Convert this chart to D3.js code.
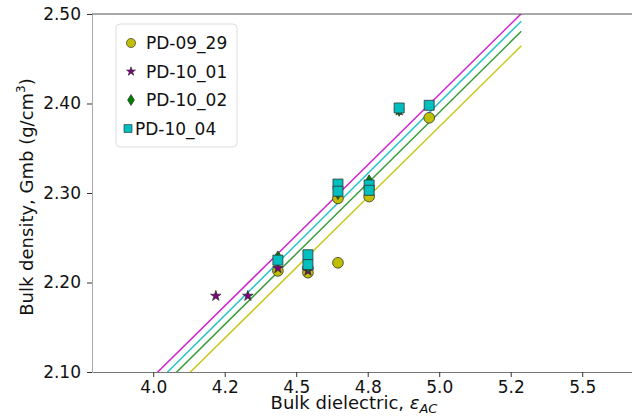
<!DOCTYPE html>
<html>
<head>
<meta charset="utf-8">
<script src="https://cdnjs.cloudflare.com/ajax/libs/d3/7.8.5/d3.min.js"></script>
<style>
  body { margin: 0; background: #fff; }
  svg { font-family: 'DejaVu Sans', sans-serif; display: block; overflow: hidden; }
</style>
</head>
<body>
<svg id="svg1" width="632" height="420"></svg>
<script>
// Series names (legend order)
const seriesNames = ['PD-09_29', 'PD-10_01', 'PD-10_02', 'PD-10_04'];

// PD-09_29 (circles)
const x0929 = [4.436, 4.541, 4.541, 4.646, 4.646, 4.755, 4.965];
const y0929 = [2.213, 2.216, 2.211, 2.222, 2.294, 2.296, 2.384];
// PD-10_01 (stars)
const x1001 = [4.219, 4.331, 4.436, 4.541, 4.860];
const y1001 = [2.185, 2.185, 2.216, 2.213, 2.392];
// PD-10_02 (thin diamonds)
const x1002 = [4.436, 4.541, 4.646, 4.755, 4.860];
const y1002 = [2.228, 2.218, 2.300, 2.313, 2.393];
// PD-10_04 (squares)
const x1004 = [4.436, 4.541, 4.541, 4.646, 4.646, 4.755, 4.755, 4.860, 4.965];
const y1004 = [2.225, 2.231, 2.220, 2.310, 2.302, 2.309, 2.303, 2.395, 2.398];

// Fit lines, y = a + b*x, same order as seriesNames
const fitIntercept = [0.799, 0.835, 0.810, 0.816];
const fitSlope = [0.315, 0.315, 0.316, 0.317];
const fitRange = [3.9, 5.287];

// Ticks
const xTicks = [4.0, 4.25, 4.5, 4.75, 5.0, 5.25, 5.5];
const xTickLabels = ['4.0', '4.2', '4.5', '4.8', '5.0', '5.2', '5.5'];
const yTicks = [2.1, 2.2, 2.3, 2.4, 2.5];
const yTickLabels = ['2.10', '2.20', '2.30', '2.40', '2.50'];

const svg = d3.select('#svg1');
const width = +svg.attr('width');
const height = +svg.attr('height');

const margin = { top: 14, left: 92, bottom: 48 };
const innerWidth = 548; // runs past right edge, right spine is off-canvas
const innerHeight = height - margin.top - margin.bottom;

//Colours per series
const fillCol = ['#bfbf00', '#800080', '#008000', '#00bfbf'];
const lineCol = ['#c8c81e', '#d024d0', '#3c9c3c', '#2cc4c8'];

const xScale = d3.scaleLinear()
  .domain([3.786, 3.786 + innerWidth / 286])
  .range([0, innerWidth]);
const yScale = d3.scaleLinear()
  .domain([2.1, 2.5])
  .range([innerHeight, 0]);

const g = svg.append('g')
  .attr('transform', `translate(${margin.left},${margin.top})`);

g.append('clipPath').attr('id', 'plotClip')
  .append('rect')
  .attr('width', innerWidth).attr('height', innerHeight);

//Shapes
const thinDiamond = (w, h) => `M0,${-h/2}L${w/2},0L0,${h/2}L${-w/2},0Z`;
const shapes = [
  d3.symbol(d3.symbolCircle, 90)(),
  d3.symbol(d3.symbolStar, 34)(),
  thinDiamond(8, 13),
  d3.symbol(d3.symbolSquare, 100)()
];

// Fit lines under markers
const plot = g.append('g').attr('clip-path', 'url(#plotClip)');
const line = d3.line().x(d => xScale(d[0])).y(d => yScale(d[1]));
// draw in z-order: yellow, green, cyan, magenta
[0, 2, 3, 1].forEach(i => {
  plot.append('path')
    .attr('d', line(fitRange.map(x => [x, fitIntercept[i] + fitSlope[i] * x])))
    .attr('fill', 'none')
    .attr('stroke', lineCol[i])
    .attr('stroke-width', 1.5);
});

const seriesX = [x0929, x1001, x1002, x1004];
const seriesY = [y0929, y1001, y1002, y1004];

seriesNames.forEach((name, i) => {
  const pts = seriesX[i].map((x, j) => [x, seriesY[i][j]]);
  plot.selectAll(`.pt${i}`).data(pts)
    .enter().append('path')
      .attr('class', `pt${i}`)
      .attr('d', shapes[i])
      .attr('transform', d => `translate(${xScale(d[0])},${yScale(d[1])})`)
      .attr('fill', fillCol[i])
      .attr('stroke', '#333')
      .attr('stroke-width', 0.8);
});

// Axes
const xAxisG = g.append('g')
  .attr('transform', `translate(0,${innerHeight})`)
  .call(d3.axisBottom(xScale).tickValues(xTicks)
    .tickFormat((d, i) => xTickLabels[i]).tickSize(5).tickSizeOuter(0).tickPadding(4));
const yAxisG = g.append('g')
  .call(d3.axisLeft(yScale).tickValues(yTicks)
    .tickFormat((d, i) => yTickLabels[i]).tickSize(5).tickSizeOuter(0).tickPadding(6));

[xAxisG, yAxisG].forEach(a => {
  a.selectAll('text').attr('font-size', 17).attr('fill', '#111')
    .attr('font-family', "'DejaVu Sans', sans-serif");
  a.selectAll('.tick line').attr('stroke', '#333');
});
xAxisG.select('.domain').attr('stroke', '#777');
yAxisG.select('.domain').attr('stroke', '#aaa');

//Top spine
g.append('line')
  .attr('x1', 0).attr('x2', innerWidth)
  .attr('y1', 0).attr('y2', 0)
  .attr('stroke', '#555').attr('stroke-width', 1.2);

// Axis labels
const xLab = svg.append('text')
  .attr('x', margin.left + 262).attr('y', 409)
  .attr('text-anchor', 'middle')
  .attr('font-size', 18).attr('fill', '#111');
xLab.append('tspan').text('Bulk dielectric, ');
xLab.append('tspan').attr('font-style', 'italic').text('ε');
xLab.append('tspan').attr('font-style', 'italic').attr('font-size', 13)
  .attr('baseline-shift', -4).text('AC');

const yLab = svg.append('text')
  .attr('transform', `translate(33,${margin.top + innerHeight / 2 + 4}) rotate(-90)`)
  .attr('text-anchor', 'middle')
  .attr('font-size', 18).attr('fill', '#111');
yLab.append('tspan').text('Bulk density, Gmb (g/cm');
yLab.append('tspan').attr('font-size', 12).attr('dy', -8).text('3');
yLab.append('tspan').attr('dy', 8).text(')');

// Legend
const legG = svg.append('g').attr('transform', 'translate(116,24)');
legG.append('rect')
  .attr('width', 121).attr('height', 123).attr('rx', 4)
  .attr('fill', 'white').attr('fill-opacity', 0.85)
  .attr('stroke', '#ddd');
seriesNames.forEach((name, i) => {
  const row = legG.append('g').attr('transform', `translate(0,${19 + i * 28.5})`);
  row.append('path')
    .attr('d', shapes[i])
    .attr('transform', i === 3 ? 'translate(12,0) scale(0.8)' : 'translate(15,0) scale(0.85)')
    .attr('fill', fillCol[i])
    .attr('stroke', '#333').attr('stroke-width', 0.8);
  row.append('text')
    .attr('x', i === 3 ? 19 : 30).attr('y', 6)
    .attr('font-size', 17).attr('fill', '#111')
    .text(name);
});
</script>
</body>
</html>
